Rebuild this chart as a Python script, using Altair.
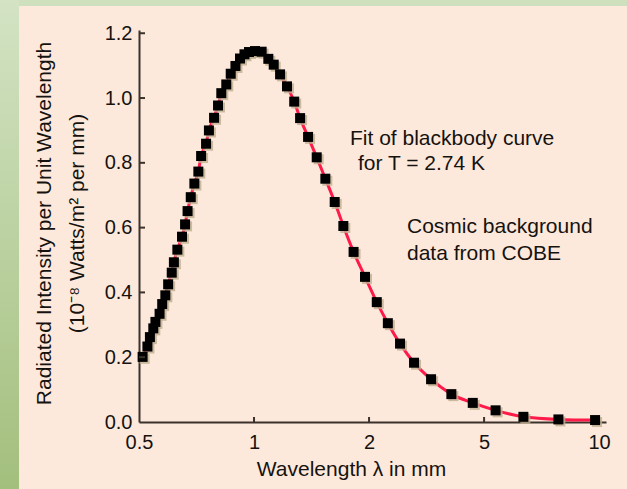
import altair as alt
import numpy as np
import pandas as pd

# COBE cosmic background measurements (wavelength in mm, intensity in 1e-8 W/m^2 per mm)
wavelength_mm = [
    0.511, 0.526, 0.534, 0.545, 0.552, 0.566, 0.575, 0.586, 0.596, 0.609,
    0.617, 0.630, 0.648, 0.660, 0.670, 0.683, 0.698, 0.715, 0.727, 0.749,
    0.762, 0.786, 0.805, 0.821, 0.846, 0.869, 0.894, 0.919, 0.944, 0.970,
    1.006, 1.047, 1.090, 1.126, 1.170, 1.220, 1.274, 1.320, 1.385, 1.459,
    1.537, 1.626, 1.713, 1.822, 1.952, 2.127, 2.323, 2.560, 2.862, 3.278,
    3.853, 4.569, 5.359, 6.337, 7.825, 9.761,
]
intensity = [
    0.201, 0.233, 0.262, 0.289, 0.309, 0.334, 0.364, 0.391, 0.425, 0.461,
    0.493, 0.532, 0.572, 0.610, 0.651, 0.694, 0.736, 0.773, 0.821, 0.859,
    0.900, 0.939, 0.977, 1.015, 1.042, 1.075, 1.099, 1.122, 1.135, 1.142,
    1.145, 1.143, 1.121, 1.103, 1.073, 1.036, 0.989, 0.938, 0.880, 0.817,
    0.751, 0.679, 0.605, 0.525, 0.448, 0.370, 0.305, 0.242, 0.183, 0.132,
    0.086, 0.059, 0.036, 0.016, 0.008, 0.006,
]

# The wavelength axis puts its labelled values at equal spacing
x_tick_values = [0.5, 1, 2, 5, 10]
x_tick_labels = ["0.5", "1", "2", "5", "10"]
y_tick_values = [0.2, 0.4, 0.6, 0.8, 1.0, 1.2]

W, H = 467, 392
FONT = "Liberation Sans"
INK = "#15120f"
AXIS_INK = "#3a332c"

tick_idx = np.arange(len(x_tick_values))
df = pd.DataFrame({"wavelength": wavelength_mm, "intensity": intensity})
df["pos"] = np.interp(np.log(df["wavelength"]), np.log(x_tick_values), tick_idx)

label_expr = "[" + ",".join(f"'{s}'" for s in x_tick_labels) + "][datum.value]"

x_enc = alt.X(
    "pos:Q",
    scale=alt.Scale(domain=[0, 4.06], nice=False, zero=False),
    axis=alt.Axis(
        values=list(range(len(x_tick_values))),
        labelExpr=label_expr,
        title="Wavelength λ in mm",
        ticks=False, tickSize=0, grid=False, labelFlush=False,
        labelPadding=26, labelBaseline="alphabetic",
        titleX=212, titleY=53, titleBaseline="alphabetic", titleAlign="center",
    ),
)
y_enc = alt.Y(
    "intensity:Q",
    scale=alt.Scale(domain=[0, 1.21], nice=False),
    axis=alt.Axis(
        values=[0.0] + y_tick_values,
        format=".1f",
        title=["Radiated Intensity per Unit Wavelength", "(10⁻⁸ Watts/m² per mm)"],
        ticks=False, tickSize=0, grid=False, labelFlush=False,
        labelPadding=7,
        titleAngle=270, titleX=-89, titleY=193,
        titleBaseline="alphabetic", titleAlign="center", titleLineHeight=33,
    ),
)

one = pd.DataFrame({"k": [0]})

# Decorative green frame strips
left_strip = alt.Chart(one).mark_rect(
    color=alt.LinearGradient(
        gradient="linear",
        stops=[alt.GradientStop(color="#d3e3c4", offset=0),
               alt.GradientStop(color="#a3bf7d", offset=1)],
        x1=0, x2=0, y1=0, y2=1,
    )
).encode(x=alt.value(-139), x2=alt.value(-120), y=alt.value(-30), y2=alt.value(459))
top_strip = alt.Chart(one).mark_rect(color="#cfe0be").encode(
    x=alt.value(-120), x2=alt.value(488), y=alt.value(-30), y2=alt.value(-24)
)

fit_line = alt.Chart(df).mark_line(
    color="#ff1a4a", strokeWidth=3, interpolate="monotone"
).encode(x=x_enc, y=y_enc)

# Soft print shadow under each data square, then the squares themselves
shadow = alt.Chart(df).mark_square(
    size=100, color="#bfae90", opacity=0.8, xOffset=2, yOffset=2
).encode(x=x_enc, y=y_enc)
points = alt.Chart(df).mark_square(size=100, color="black", opacity=1).encode(
    x=x_enc, y=y_enc
)

# Inward-pointing tick marks
ytick_df = pd.DataFrame({"intensity": y_tick_values})
y_ticks = alt.Chart(ytick_df).mark_rule(color=AXIS_INK, strokeWidth=2).encode(
    y=y_enc, x=alt.value(0), x2=alt.value(6)
)
xtick_df = pd.DataFrame({"pos": tick_idx[1:-1]})
x_ticks = alt.Chart(xtick_df).mark_rule(color=AXIS_INK, strokeWidth=2).encode(
    x=x_enc, y=alt.value(H), y2=alt.value(H - 5)
)


def note(text, x, y):
    return alt.Chart(one).mark_text(
        text=text, align="left", baseline="alphabetic",
        font=FONT, fontSize=21, color=INK,
    ).encode(x=alt.value(x), y=alt.value(y))


notes = [
    note("Fit of blackbody curve", 211, 115),
    note("for T = 2.74 K", 219, 140),
    note("Cosmic background", 268, 203),
    note("data from COBE", 268, 230),
]

chart = alt.layer(
    left_strip, top_strip, fit_line, shadow, points, y_ticks, x_ticks, *notes
).properties(
    width=W, height=H,
    autosize=alt.AutoSizeParams(type="none"),
    padding={"left": 139, "top": 30, "right": 627 - 139 - W, "bottom": 489 - 30 - H},
    background="#fde9db",
).configure_view(stroke=None).configure_axis(
    domainColor=AXIS_INK, domainWidth=2,
    labelFont=FONT, labelFontSize=20, labelColor=INK,
    titleFont=FONT, titleFontSize=21, titleColor=INK, titleFontWeight="normal",
)

chart.save("out.html", embed_options={"renderer": "svg", "actions": False})
